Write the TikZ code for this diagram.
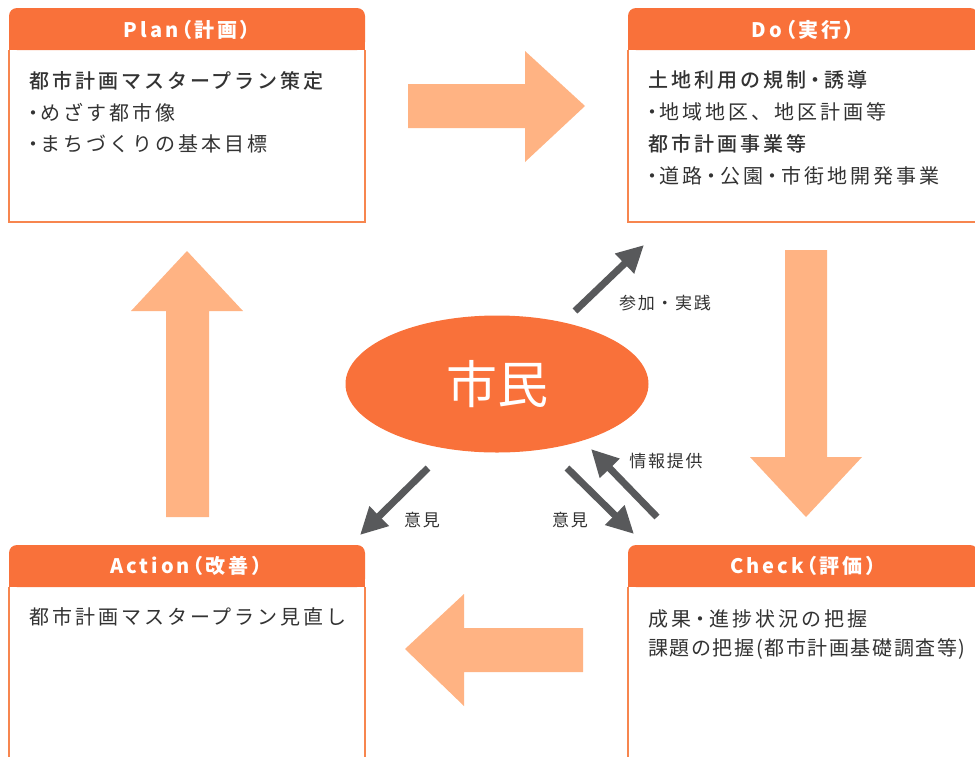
\documentclass[tikz,border=0pt]{standalone}
\usepackage{fontspec}
\usetikzlibrary{arrows.meta,shapes.geometric}
\newfontfamily\jpbody[LetterSpace=15,BoldFont={Noto Sans CJK JP Medium}]{Noto Sans CJK JP}
\newfontfamily\jpbodytight[LetterSpace=8]{Noto Sans CJK JP}
\newfontfamily\jphead[RawFeature={+palt},LetterSpace=15]{Noto Sans CJK JP}
\newfontfamily\jplbl[LetterSpace=10]{Noto Sans CJK JP}
\newfontfamily\jpbig{Noto Sans CJK JP}
\definecolor{hdr}{HTML}{F9713A}
\definecolor{bord}{HTML}{F7864F}
\definecolor{ltar}{HTML}{FFB383}
\definecolor{dkar}{HTML}{58595B}
\definecolor{txt}{HTML}{333333}
\newcommand\nbul{\makebox[0.72em][c]{・}}
\newcommand\mbul{\makebox[0.9em][c]{・}}
\newcommand\pdcabox[5]{%
  \fill[white] (#1,#2) rectangle (#3,#4);
  \fill[hdr,rounded corners=8] (#1,#2) rectangle (#3,#5);
  \fill[hdr] (#1,#2+12) rectangle (#3,#5);
  \draw[bord,line width=1.2] (#1,#5) -- (#1,#4) -- (#3,#4) -- (#3,#5);
}
\begin{document}
\begin{tikzpicture}[x=1pt,y=-1pt,
  headtxt/.style={text=white,inner sep=0,font=\jphead\bfseries\fontsize{20}{22}\selectfont},
  bodytxt/.style={text=txt,inner sep=0,anchor=west,font=\jpbody\fontsize{20}{22}\selectfont},
  bodybold/.style={bodytxt,font=\jpbody\bfseries\fontsize{20}{22}\selectfont},
  bodytight/.style={bodytxt,font=\jpbodytight\fontsize{20}{22}\selectfont},
  lbl/.style={text=txt,inner sep=0,font=\jplbl\fontsize{17}{19}\selectfont},
  darr/.style={draw=dkar,line width=7,-{Triangle[length=27,width=26]}},
  bigar/.style={fill=ltar}]
\useasboundingbox (0,0) rectangle (975,756);
\clip (0,0) rectangle (975,756);

% boxes
\pdcabox{9}{8}{365}{222}{50}
\pdcabox{628}{8}{978}{222}{50}
\pdcabox{9}{545}{365}{790}{587}
\pdcabox{628}{545}{978}{790}{587}

% headers
\node[headtxt] (planhead) at (187,30) {Plan（計画）};
\node[headtxt] (dohead) at (803,30) {Do（実行）};
\node[headtxt] (actionhead) at (186,566) {Action（改善）};
\node[headtxt] (checkhead) at (803,566) {Check（評価）};

% plan text
\node[bodybold] (p1) at (29,81) {都市計画マスタープラン策定};
\node[bodytxt] (p2) at (26,113) {\nbul めざす都市像};
\node[bodytxt] (p3) at (26,144) {\nbul まちづくりの基本目標};
% do text
\node[bodybold] (d1) at (648,80) {土地利用の規制\mbul 誘導};
\node[bodytxt] (d2) at (645,112) {\nbul 地域地区、地区計画等};
\node[bodybold] (d3) at (648,144) {都市計画事業等};
\node[bodytxt] (d4) at (645,176) {\nbul 道路\mbul 公園\mbul 市街地開発事業};
% check text
\node[bodytxt] (c1) at (648,619) {成果\mbul 進捗状況の把握};
\node[bodytight] (c2) at (648,649) {課題の把握(都市計画基礎調査等)};
% action text
\node[bodytxt] (a1) at (29,617) {都市計画マスタープラン見直し};

% big arrows
\fill[bigar] (408,84) -- (525,84) -- (525,51) -- (585,106) -- (525,162) -- (525,128) -- (408,128) -- cycle;
\fill[bigar] (785,250) -- (827,250) -- (827,457) -- (862,457) -- (806,517) -- (750,457) -- (785,457) -- cycle;
\fill[bigar] (166,517) -- (166,311) -- (131,311) -- (187,251) -- (243,311) -- (209,311) -- (209,517) -- cycle;
\fill[bigar] (583,628) -- (464,628) -- (464,594) -- (405,649) -- (464,706) -- (464,672) -- (583,672) -- cycle;

% citizens
\node[ellipse,fill=hdr,minimum width=303,minimum height=137,inner sep=0,
  text=white,font=\jpbig\fontsize{51}{53}\selectfont] (shimin) at (497,384) {市民};

% dark arrows
\coordinate (s1) at (575,311); \coordinate (e1) at (644,245);
\coordinate (s2) at (657,517); \coordinate (e2) at (591,449);
\coordinate (s3) at (567,468); \coordinate (e3) at (634,534);
\coordinate (s4) at (428,468); \coordinate (e4) at (360,535);
\draw[darr] (s1) -- (e1);
\draw[darr] (s2) -- (e2);
\draw[darr] (s3) -- (e3);
\draw[darr] (s4) -- (e4);

\node[lbl] (l1) at (665,303) {参加・実践};
\node[lbl] (l2) at (666,461) {情報提供};
\node[lbl] (l3) at (422,520) {意見};
\node[lbl] (l4) at (570,520) {意見};
\end{tikzpicture}
\end{document}
